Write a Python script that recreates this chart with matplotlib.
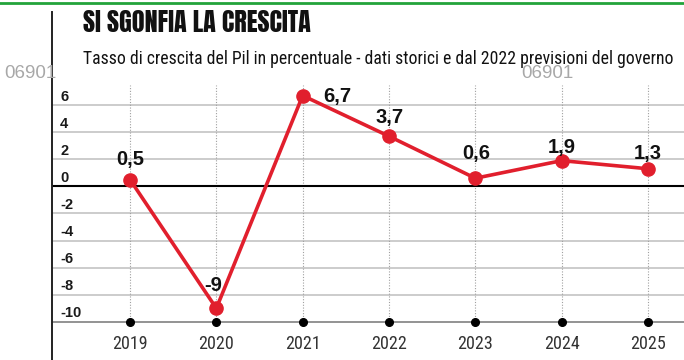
import matplotlib
matplotlib.use("Agg")
import matplotlib.pyplot as plt
from matplotlib.lines import Line2D

years = [2019, 2020, 2021, 2022, 2023, 2024, 2025]
growth = [0.5, -9, 6.7, 3.7, 0.6, 1.9, 1.3]
value_labels = ["0,5", "-9", "6,7", "3,7", "0,6", "1,9", "1,3"]
yticks = [6, 4, 2, 0, -2, -4, -6, -8, -10]

title = "SI SGONFIA LA CRESCITA"
subtitle = "Tasso di crescita del Pil in percentuale - dati storici e dal 2022 previsioni del governo"
watermark = "06901"

TITLE_FONT = ["Anton", "Oswald", "DejaVu Sans"]
COND_FONT = ["Roboto Condensed", "Sofia Sans Condensed", "DejaVu Sans"]
BOLD_FONT = ["Liberation Sans", "DejaVu Sans"]

W, H = 684, 360
fig = plt.figure(figsize=(W / 100, H / 100), dpi=100)
fig.patch.set_facecolor("white")

ax_left, ax_top = 52, 85
ax = fig.add_axes([ax_left / W, 0, (W - ax_left) / W, (H - ax_top) / H])
ppu = 13.5
zero_px = 186
ax.set_ylim(-10 - (H - 322) / ppu, (zero_px - ax_top) / ppu)
px_per_year = 86.33
ax.set_xlim(2019 - (130 - ax_left) / px_per_year, 2025 + (W - 648) / px_per_year)
ax.axis("off")

for v in yticks:
    if v == 0:
        ax.axhline(v, color="black", lw=1.5, zorder=2)
    elif v == -10:
        ax.axhline(v, color="#8a8a8a", lw=1.3, zorder=1)
    else:
        ax.axhline(v, color="#c4c4c4", lw=1.2, zorder=1)
    ax.text(0.013, v + 0.62, str(v), transform=ax.get_yaxis_transform(),
            ha="left", va="center", fontsize=10.5, fontweight="bold",
            family=BOLD_FONT, color="#1a1a1a")

for yr in years:
    ax.plot([yr, yr], [-10, 7.45], color="#a0a0a0", lw=0.8, ls=(0, (1, 1.5)), zorder=1)

ax.plot(years, [-10] * len(years), "o", color="black", ms=5.5, zorder=3, clip_on=False)

ax.plot(years, growth, color="#e11f2d", lw=2.6, marker="o", ms=9.5, zorder=4,
        solid_capstyle="round")

# label offsets in pixels (dx right, dy up)
label_offsets = [(0, 22), (-3, 25), (35, 1), (1, 21), (1, 27), (0, 15), (0, 17)]
for (yr, v, lab), (dx, dy) in zip(zip(years, growth, value_labels), label_offsets):
    ax.annotate(lab, (yr, v), xytext=(dx * 0.72, dy * 0.72),
                textcoords="offset points", ha="center", va="center_baseline",
                fontsize=14.5, fontweight="bold", family=BOLD_FONT, color="#111111",
                zorder=5)

for yr in years:
    ax.text(yr, -10 - 22 / ppu, str(yr), ha="center", va="center", fontsize=13,
            family=COND_FONT, color="#333333")

fig.add_artist(Line2D([0, 1], [1 - 3 / H, 1 - 3 / H], color="#22a33a", lw=2))
fig.add_artist(Line2D([ax_left / W, ax_left / W], [0, 1 - 12 / H], color="#222222", lw=1.4))

t_title = fig.text(83 / W, 1 - 23 / H, title, ha="left", va="center", fontsize=19,
                   fontweight="bold", family=TITLE_FONT, color="#111111")
t_sub = fig.text(83 / W, 1 - 59 / H, subtitle, ha="left", va="center", fontsize=13,
                 family=COND_FONT, color="#111111")
fig.text(4 / W, 1 - 73 / H, watermark, ha="left", va="center", fontsize=13.5,
         family=BOLD_FONT, color="#a8a8a8")
fig.text(521 / W, 1 - 73 / H, watermark, ha="left", va="center", fontsize=13.5,
         family=BOLD_FONT, color="#a8a8a8")

# fit title/subtitle widths to the reference
renderer = fig.canvas.get_renderer()
for t, target in [(t_title, 227), (t_sub, 587)]:
    for _ in range(3):
        w = t.get_window_extent(renderer).width
        t.set_fontsize(t.get_fontsize() * target / w)

fig.savefig("out.png", dpi=100)
